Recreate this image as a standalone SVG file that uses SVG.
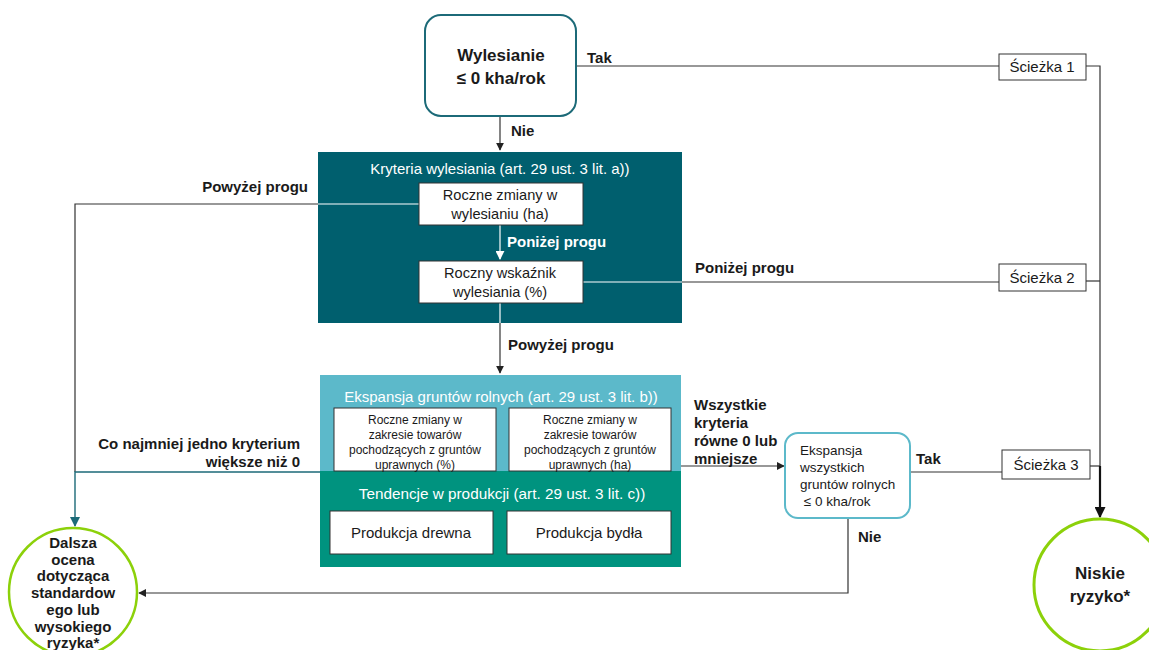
<svg xmlns="http://www.w3.org/2000/svg" width="1149" height="650" viewBox="0 0 1149 650">
<style>
text{font-family:"Liberation Sans",Arial,sans-serif;fill:#1a1a1a}
.b{font-weight:bold}
.w{fill:#ffffff}
.c{text-anchor:middle}
.r{text-anchor:end}
.lb{font-weight:bold;font-size:15px}
.box{fill:#ffffff;stroke:#333333;stroke-width:1}
.ln{fill:none;stroke:#333333;stroke-width:1.2}
.wl{fill:none;stroke:#ffffff;stroke-width:1.2}
.tl{fill:none;stroke:#1c6a78;stroke-width:1.4}
</style>
<defs>
<marker id="ah" viewBox="0 0 10 10" refX="9" refY="5" markerWidth="8" markerHeight="8" markerUnits="userSpaceOnUse" orient="auto"><path d="M0,0L10,5L0,10z" fill="#222"/></marker>
<marker id="ahw" viewBox="0 0 10 10" refX="9" refY="5" markerWidth="9" markerHeight="9" markerUnits="userSpaceOnUse" orient="auto"><path d="M0,0L10,5L0,10z" fill="#fff"/></marker>
<marker id="aht" viewBox="0 0 10 10" refX="9" refY="5" markerWidth="10" markerHeight="10" markerUnits="userSpaceOnUse" orient="auto"><path d="M0,0L10,5L0,10z" fill="#1c6a78"/></marker>
<marker id="ahb" viewBox="0 0 10 10" refX="9" refY="5" markerWidth="11" markerHeight="11" markerUnits="userSpaceOnUse" orient="auto"><path d="M0,0L10,5L0,10z" fill="#111"/></marker>
</defs>

<g id="panel-a">
<rect x="318" y="152" width="364" height="171" fill="#005f6e"/>
<text class="w c" x="500" y="174" font-size="15">Kryteria wylesiania (art. 29 ust. 3 lit. a))</text>
</g>
<g id="panel-b">
<rect x="320" y="375" width="361" height="96" fill="#5cb9ca"/>
<text class="w c" x="501" y="402" font-size="15">Ekspansja gruntów rolnych (art. 29 ust. 3 lit. b))</text>
</g>
<g id="panel-c">
<rect x="320" y="471" width="361" height="96" fill="#00937f"/>
<text class="w c" x="502" y="499" font-size="15.3">Tendencje w produkcji (art. 29 ust. 3 lit. c))</text>
</g>

<g id="connectors">
<path class="ln" d="M576,66H999"/>
<path class="ln" d="M500,116V150" marker-end="url(#ah)"/>
<path class="wl" d="M419,204H318"/>
<path class="ln" d="M318,204H75V472"/>
<path class="wl" d="M500,225V259" marker-end="url(#ahw)"/>
<path class="wl" d="M583,282H682"/>
<path class="ln" d="M682,282H999"/>
<path class="wl" d="M500,303V323"/>
<path class="ln" d="M500,323V373" marker-end="url(#ah)"/>
<path class="tl" d="M320,472H75V526" marker-end="url(#aht)"/>
<path class="ln" d="M681,466H784" marker-end="url(#ah)"/>
<path class="ln" d="M910,472H1002"/>
<path class="ln" d="M848,518V593H139" marker-end="url(#ah)"/>
<path class="ln" d="M1086,66H1100V466"/>
<path class="ln" d="M1086,281H1100"/>
<path class="ln" d="M1090,466H1100"/>
<path fill="none" stroke="#111" stroke-width="2.2" d="M1100,466V517" marker-end="url(#ahb)"/>
</g>

<g id="labels">
<text class="lb" x="587" y="63">Tak</text>
<text class="lb" x="511" y="136">Nie</text>
<text class="lb r" x="308" y="192">Powyżej progu</text>
<text class="lb w" x="507" y="247">Poniżej progu</text>
<text class="lb" x="695" y="273">Poniżej progu</text>
<text class="lb" x="508" y="350">Powyżej progu</text>
<text class="lb r" x="300" y="449">Co najmniej jedno kryterium</text>
<text class="lb r" x="300" y="467">większe niż 0</text>
<text class="lb"><tspan x="694" y="410">Wszystkie</tspan><tspan x="694" y="428">kryteria</tspan><tspan x="694" y="446">równe 0 lub</tspan><tspan x="694" y="464">mniejsze</tspan></text>
<text class="lb" x="916" y="464">Tak</text>
<text class="lb" x="858" y="542">Nie</text>
</g>

<g id="n-wylesianie">
<rect x="425" y="15" width="151" height="101" rx="16" fill="#fff" stroke="#1c6a78" stroke-width="2"/>
<text class="b c" x="501" y="61" font-size="17">Wylesianie</text>
<text class="b c" x="501" y="84" font-size="17">≤ 0 kha/rok</text>
</g>
<g id="n-roczne-zmiany">
<rect class="box" x="419" y="183" width="164" height="42"/>
<text class="c" x="500" y="200" font-size="14.6">Roczne zmiany w</text>
<text class="c" x="500" y="219" font-size="14.6">wylesianiu (ha)</text>
</g>
<g id="n-wskaznik">
<rect class="box" x="419" y="261" width="164" height="42"/>
<text class="c" x="500" y="278" font-size="14.6">Roczny wskaźnik</text>
<text class="c" x="500" y="297" font-size="14.6">wylesiania (%)</text>
</g>
<g id="n-towary-pct">
<rect class="box" x="334" y="408" width="162" height="63"/>
<text class="c" font-size="12"><tspan x="415" y="424">Roczne zmiany w</tspan><tspan x="415" y="439">zakresie towarów</tspan><tspan x="415" y="454">pochodzących z gruntów</tspan><tspan x="415" y="469">uprawnych (%)</tspan></text>
</g>
<g id="n-towary-ha">
<rect class="box" x="509" y="408" width="162" height="63"/>
<text class="c" font-size="12"><tspan x="590" y="424">Roczne zmiany w</tspan><tspan x="590" y="439">zakresie towarów</tspan><tspan x="590" y="454">pochodzących z gruntów</tspan><tspan x="590" y="469">uprawnych (ha)</tspan></text>
</g>
<g id="n-drewno">
<rect class="box" x="330" y="511" width="163" height="43"/>
<text class="c" x="411" y="538" font-size="15">Produkcja drewna</text>
</g>
<g id="n-bydlo">
<rect class="box" x="507" y="511" width="164" height="43"/>
<text class="c" x="589" y="538" font-size="15">Produkcja bydła</text>
</g>
<g id="n-ekspansja">
<rect x="785" y="433" width="125" height="85" rx="13" fill="#fff" stroke="#5cb9ca" stroke-width="2"/>
<text font-size="13.5"><tspan x="800" y="455">Ekspansja</tspan><tspan x="800" y="472">wszystkich</tspan><tspan x="800" y="489">gruntów rolnych</tspan><tspan x="800" y="506"> ≤ 0 kha/rok</tspan></text>
</g>
<g id="n-sciezka1">
<rect class="box" x="999" y="54" width="87" height="26"/>
<text class="c" x="1042" y="72" font-size="15">Ścieżka 1</text>
</g>
<g id="n-sciezka2">
<rect class="box" x="999" y="264" width="87" height="27"/>
<text class="c" x="1042" y="283" font-size="15">Ścieżka 2</text>
</g>
<g id="n-sciezka3">
<rect class="box" x="1002" y="450" width="88" height="29"/>
<text class="c" x="1046" y="470" font-size="15">Ścieżka 3</text>
</g>
<g id="n-niskie">
<circle cx="1100" cy="585" r="66" fill="#fff" stroke="#8cd10a" stroke-width="3"/>
<text class="b c" x="1100" y="579" font-size="17">Niskie</text>
<text class="b c" x="1100" y="602" font-size="17">ryzyko*</text>
</g>
<g id="n-dalsza">
<circle cx="73" cy="592" r="64" fill="#fff" stroke="#8cd10a" stroke-width="2.5"/>
<text class="b c" font-size="15"><tspan x="73" y="548">Dalsza</tspan><tspan x="73" y="565">ocena</tspan><tspan x="73" y="581">dotycząca</tspan><tspan x="73" y="598">standardow</tspan><tspan x="73" y="615">ego lub</tspan><tspan x="73" y="632">wysokiego</tspan><tspan x="73" y="648">ryzyka*</tspan></text>
</g>
</svg>
